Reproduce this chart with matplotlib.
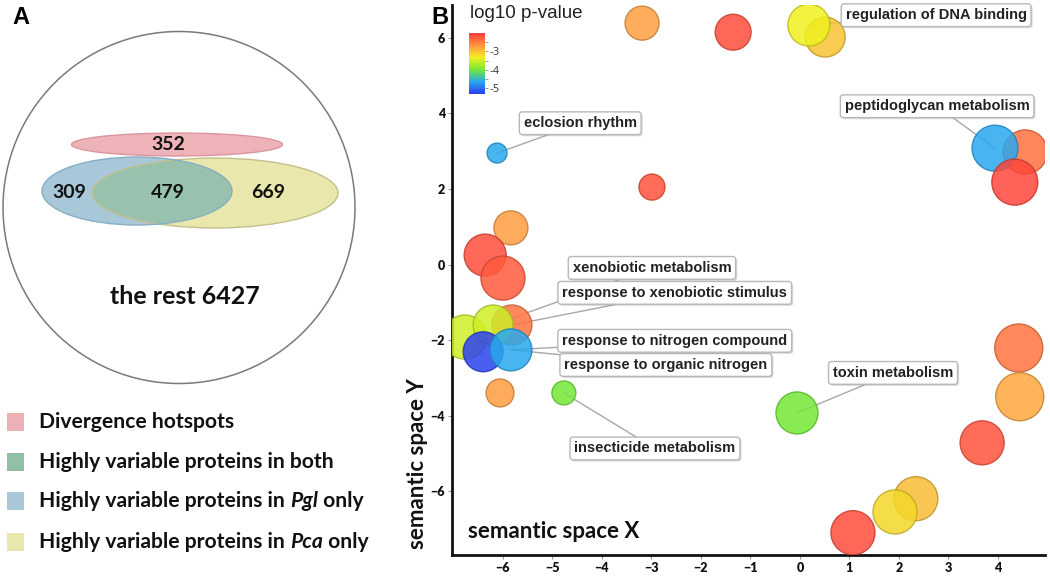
import matplotlib
matplotlib.use('Agg')
import matplotlib.pyplot as plt
import matplotlib.patheffects as pe
from matplotlib.patches import Ellipse, Circle, Rectangle
from matplotlib.colors import LinearSegmentedColormap, Normalize
from matplotlib.cm import ScalarMappable

# ---------------- Panel A data ----------------
count_hotspots = 352
count_pgl_only = 309
count_both = 479
count_pca_only = 669
count_rest = 6427
legend_names = ['Divergence hotspots', 'Highly variable proteins in both',
                'Highly variable proteins in ', 'Highly variable proteins in ']
legend_italic = ['', '', 'Pgl', 'Pca']
legend_colors = ['#eeb0b6', '#92c0a7', '#a8c8da', '#e9e7ab']

# ---------------- Panel B data ----------------
go_x = [-3.19, -1.35, 0.51, 0.18, -6.12, -2.99, 4.55, 3.94, 4.34, -5.84,
        -6.36, -6.00, -5.82, -6.77, -6.20, -6.40, -5.84, -6.06, -4.77, -0.06,
        4.42, 4.44, 3.68, 2.34, 1.92, 1.07]
go_y = [6.39, 6.15, 6.02, 6.34, 2.95, 2.05, 2.98, 3.08, 2.18, 0.97,
        0.25, -0.36, -1.60, -1.92, -1.60, -2.31, -2.26, -3.40, -3.40, -3.93,
        -2.21, -3.50, -4.72, -6.20, -6.55, -7.10]
go_logp = [-2.75, -2.15, -3.00, -3.32, -4.64, -2.20, -2.40, -4.64, -2.10, -2.73,
           -2.15, -2.25, -2.45, -3.50, -3.50, -5.25, -4.64, -2.73, -3.98, -3.98,
           -2.45, -2.80, -2.20, -2.95, -3.15, -2.15]
go_logsize = [1.79, 1.89, 2.10, 2.21, 1.05, 1.37, 2.32, 2.42, 2.42, 1.79,
              2.21, 2.32, 2.10, 2.32, 2.10, 2.10, 2.21, 1.47, 1.26, 2.21,
              2.53, 2.53, 2.32, 2.32, 2.32, 2.32]

term_names = ['regulation of DNA binding', 'peptidoglycan metabolism', 'eclosion rhythm',
              'xenobiotic metabolism', 'response to xenobiotic stimulus',
              'response to nitrogen compound', 'response to organic nitrogen',
              'toxin metabolism', 'insecticide metabolism']
term_bubble = [3, 7, 4, 14, 12, 16, 16, 19, 18]
term_label_x = [2.75, 2.77, -4.44, -2.99, -2.53, -2.53, -2.71, 1.88, -2.93]
term_label_y = [6.60, 4.19, 3.74, -0.09, -0.75, -2.02, -2.66, -2.87, -4.87]

x_ticks = [-6, -5, -4, -3, -2, -1, 0, 1, 2, 3, 4]
y_ticks = [6, 4, 2, 0, -2, -4, -6]
cbar_ticks = [-3, -4, -5]

W, H = 1050, 576
fig = plt.figure(figsize=(W / 100, H / 100), dpi=100)

BOLD_A = dict(family='Lato', fontweight='bold', color='#111111')

# ================= Panel A =================
ax0 = fig.add_axes([0, 0, 430 / W, 1])
ax0.set_xlim(0, 430)
ax0.set_ylim(H, 0)
ax0.axis('off')

ax0.add_patch(Circle((179, 207.5), 176, fill=False, edgecolor='#7a7a7a', lw=1.1))

yellow = Ellipse((215, 193), 246, 70, facecolor='#e9e7ab', edgecolor='none')
blue = Ellipse((137, 191), 190, 68, facecolor='#a8c8da', edgecolor='none')
ax0.add_patch(yellow)
ax0.add_patch(blue)
overlap = Ellipse((215, 193), 246, 70, facecolor='#98c2ad', edgecolor='none')
ax0.add_patch(overlap)
overlap.set_clip_path(blue)
ax0.add_patch(Ellipse((215, 193), 246, 70, fill=False, edgecolor='#c3c08c', lw=1.0))
ax0.add_patch(Ellipse((137, 191), 190, 68, fill=False, edgecolor='#86aec4', lw=1.0))
ax0.add_patch(Ellipse((177, 144.5), 211, 23, facecolor='#eeb3b8', edgecolor='#d9969d', lw=1.0))

ax0.text(168, 145, str(count_hotspots), ha='center', va='center', fontsize=14, **BOLD_A)
ax0.text(69, 193, str(count_pgl_only), ha='center', va='center', fontsize=14, **BOLD_A)
ax0.text(168, 193, str(count_both), ha='center', va='center', fontsize=14, **BOLD_A)
ax0.text(268, 193, str(count_pca_only), ha='center', va='center', fontsize=14, **BOLD_A)
ax0.text(185, 296, 'the rest %d' % count_rest, ha='center', va='center', fontsize=18, **BOLD_A)

rows_y = [422, 462, 501, 542]
for i, (nm, it, col) in enumerate(zip(legend_names, legend_italic, legend_colors)):
    ax0.add_patch(Rectangle((7, rows_y[i] - 9), 17, 18, facecolor=col, edgecolor='none'))
    t1 = ax0.text(39, rows_y[i], nm, ha='left', va='center', fontsize=15.2, **BOLD_A)
    if it:
        t2 = ax0.annotate(it, xy=(1, 0), xycoords=t1, ha='left', va='bottom',
                          fontsize=15.2, style='italic', **BOLD_A)
        ax0.annotate(' only', xy=(1, 0), xycoords=t2, ha='left', va='bottom',
                     fontsize=15.2, **BOLD_A)

fig.text(12 / W, 1 - 17 / H, 'A', fontsize=17, fontweight='bold', family='Liberation Sans',
         ha='left', va='center')
fig.text(431 / W, 1 - 17 / H, 'B', fontsize=17, fontweight='bold', family='Liberation Sans',
         ha='left', va='center')

# ================= Panel B =================
ax = fig.add_axes([452 / W, 1 - 555 / H, (1045 - 452) / W, (555 - 5) / H])
ax.set_xlim(-7.03, 4.95)
ax.set_ylim(-7.69, 6.87)
for s in ['top', 'right']:
    ax.spines[s].set_visible(False)
for s in ['left', 'bottom']:
    ax.spines[s].set_linewidth(2.0)
    ax.spines[s].set_color('#111111')

cmap = LinearSegmentedColormap.from_list('revigo', [
    (0.00, '#2b3cf0'), (0.20, '#28a8ee'), (0.40, '#74e836'),
    (0.60, '#f0f020'), (0.78, '#ff9c42'), (1.00, '#ff3a3a')])
norm = Normalize(vmin=-5.3, vmax=-2.0)

px_per_pt = 100 / 72
radius_px = [9.5 * v for v in go_logsize]
sizes = [(2 * r / px_per_pt) ** 2 for r in radius_px]
face = [cmap(norm(v)) for v in go_logp]
edge = [tuple(c * 0.78 for c in fc[:3]) for fc in face]
ax.scatter(go_x, go_y, s=sizes, c=face, edgecolors=edge, linewidths=1.0, alpha=0.85, zorder=3)

for name, bi, lx, ly in zip(term_names, term_bubble, term_label_x, term_label_y):
    ax.annotate('', xy=(go_x[bi], go_y[bi]), xytext=(lx, ly),
                arrowprops=dict(arrowstyle='-', color='#a8a8a8', lw=1.0,
                                shrinkA=0, shrinkB=0), zorder=2)
    t = ax.text(lx, ly, name, ha='center', va='center', fontsize=10.5, fontweight='bold',
                family='Liberation Sans', color='#222222', zorder=6,
                bbox=dict(boxstyle='round,pad=0.3,rounding_size=0.2', facecolor='white',
                          edgecolor='#b8b8b8', lw=1.0))
    t.get_bbox_patch().set_path_effects([
        pe.SimplePatchShadow(offset=(1.2, -1.2), shadow_rgbFace='#999999', alpha=0.35),
        pe.Normal()])

ax.set_xticks(x_ticks)
ax.set_yticks(y_ticks)
ax.tick_params(direction='out', length=3, width=0.8, color='#999999', labelsize=9, pad=2)
for lab in ax.get_xticklabels() + ax.get_yticklabels():
    lab.set_fontweight('heavy')
    lab.set_family('Lato')
    lab.set_color('#111111')

ax.text((468 - 452) / 593, (555 - 531) / 550, 'semantic space X', transform=ax.transAxes,
        ha='left', va='center', fontsize=16, **BOLD_A)
fig.text(418 / W, 1 - 464 / H, 'semantic space Y', rotation=90, ha='center', va='center',
         fontsize=16, **BOLD_A)

# colorbar
cax = fig.add_axes([469 / W, 1 - 94 / H, 16 / W, 61 / H])
cb = fig.colorbar(ScalarMappable(norm=norm, cmap=cmap), cax=cax, ticks=cbar_ticks)
cb.outline.set_visible(False)
cax.set_yticks([-2.5, -3.5, -4.5], minor=True)
cax.tick_params(which='both', length=2, width=0.6, color='#888888', labelsize=7.5,
                labelcolor='#444444', pad=1)
cb.set_ticklabels(['-3', '-4', '-5'])
fig.text(470 / W, 1 - 13 / H, 'log10 p-value', ha='left', va='center', fontsize=13.5,
         family='Liberation Sans', color='#222222')

fig.savefig('out.png', dpi=100)
